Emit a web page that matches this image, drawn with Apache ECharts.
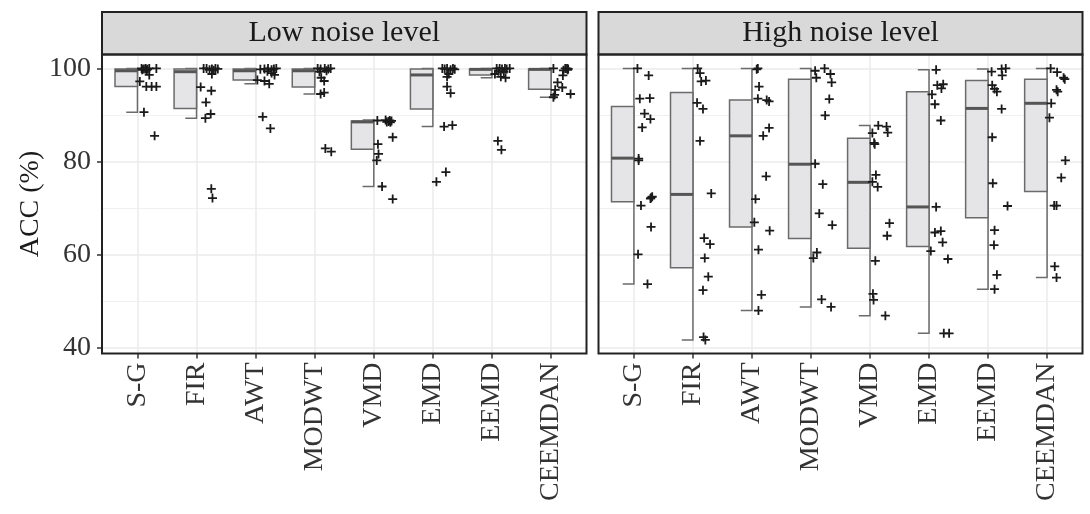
<!DOCTYPE html>
<html><head><meta charset="utf-8">
<script src="https://cdn.jsdelivr.net/npm/echarts@6/dist/echarts.min.js"></script>
<style>html,body{margin:0;padding:0;background:#fff}#chart{width:1090px;height:514px}</style>
</head><body><div id="chart"></div>
<script>
const categories = ['S-G', 'FIR', 'AWT', 'MODWT', 'VMD', 'EMD', 'EEMD', 'CEEMDAN'];
const panelTitles = ['Low noise level', 'High noise level'];
const yTicks = [40, 60, 80, 100];
const yMinorTicks = [50, 70, 90];
const yTitle = 'ACC (%)';

// box statistics per category: [min, q1, median, q3, max]
const lowBox = [
  [90.6, 96.1, 99.5, 99.9, 100],
  [89.3, 91.4, 99.3, 99.9, 100],
  [96.7, 97.5, 99.5, 99.9, 100],
  [94.5, 96.0, 99.5, 99.9, 100],
  [74.6, 82.6, 88.5, 88.7, 88.9],
  [87.5, 91.3, 98.6, 99.9, 100],
  [98.0, 98.6, 99.8, 99.9, 100],
  [93.8, 95.5, 99.8, 99.9, 100]
];
const highBox = [
  [53.6, 71.3, 80.7, 91.8, 100],
  [41.6, 57.1, 72.9, 94.8, 100],
  [47.9, 65.9, 85.5, 93.2, 100],
  [48.7, 63.4, 79.4, 97.7, 100],
  [46.8, 61.3, 75.5, 85.0, 87.7],
  [43.0, 61.7, 70.2, 95.0, 99.7],
  [52.5, 67.9, 91.4, 97.4, 99.9],
  [55.0, 73.5, 92.5, 97.7, 100]
];

// individual results (ACC %) per category
const lowPoints = [
  [100, 99.9, 100, 99.8, 100, 100, 99.7, 99.6, 98.6, 97.2, 96.1, 96.1, 96.1, 90.6, 85.5],
  [100, 100, 99.7, 99.9, 99.6, 100, 99.9, 98.8, 96.0, 95.2, 92.7, 90.2, 89.3, 74.1, 72.1],
  [99.8, 99.9, 100, 99.7, 99.9, 100, 98.6, 99.4, 99.0, 97.5, 97.3, 96.7, 89.6, 87.1],
  [100, 99.9, 100, 99.9, 100, 99.3, 99.5, 98.0, 97.3, 94.5, 94.8, 82.8, 82.1],
  [88.8, 88.9, 88.6, 88.4, 88.7, 88.5, 88.8, 85.2, 83.7, 81.6, 80.2, 74.6, 71.9],
  [100, 99.9, 100, 99.7, 100, 99.8, 98.8, 98.2, 96.1, 94.7, 87.5, 87.8, 77.7, 75.6],
  [100, 100, 99.9, 100, 99.9, 100, 98.8, 98.2, 98.0, 99.4, 99.3, 84.4, 82.5],
  [100, 100, 100, 99.9, 99.7, 99.6, 98.5, 97.0, 95.9, 95.4, 94.3, 93.8, 94.5]
];
// horizontal jitter of each point (fraction of a category step)
const lowJitter = [
  [.07, .11, .14, .17, .20, .32, .08, .15, .20, .04, .15, .24, .32, .11, .29],
  [.12, .17, .22, .26, .29, .32, .36, .26, .07, .25, .16, .24, .15, .25, .27],
  [.08, .15, .21, .27, .31, .35, .32, .20, .27, .03, .15, .23, .12, .25],
  [.05, .10, .17, .23, .27, .08, .20, .11, .16, .10, .16, .18, .28],
  [.06, .20, .25, .28, .30, .22, .27, .32, .07, .08, .05, .14, .32],
  [.16, .20, .24, .30, .34, .37, .27, .24, .24, .30, .19, .33, .22, .06],
  [.08, .13, .17, .22, .25, .30, .05, .15, .23, .11, .20, .10, .16],
  [.04, .24, .27, .29, .28, .21, .20, .11, .19, .07, .06, .04, .33]
];
const highPoints = [
  [100, 98.5, 93.5, 93.6, 90.3, 89.1, 87.3, 80.6, 80.2, 72.4, 72.0, 72.2, 70.5, 65.9, 60.0, 53.6],
  [100, 99.0, 97.2, 97.4, 92.6, 91.3, 84.4, 73.1, 63.5, 62.2, 59.2, 55.2, 52.3, 42.2, 41.6],
  [100, 99.8, 96.1, 93.5, 93.2, 92.9, 87.2, 85.5, 76.8, 71.9, 66.9, 65.1, 61.0, 51.3, 47.9],
  [99.5, 98.0, 100, 98.8, 97.0, 93.4, 89.9, 79.5, 75.1, 68.8, 66.3, 60.4, 59.2, 50.3, 48.7],
  [87.7, 87.5, 86.2, 86.1, 84.0, 83.7, 77.1, 75.6, 74.5, 66.7, 64.0, 58.6, 51.5, 50.2, 46.8],
  [99.7, 96.4, 96.6, 95.7, 94.4, 92.3, 88.8, 70.2, 64.7, 65.0, 62.6, 60.7, 59.0, 43.0, 43.0],
  [99.3, 99.9, 100, 98.5, 96.4, 95.6, 95.0, 91.3, 85.2, 75.3, 70.4, 65.2, 62.0, 55.6, 52.5],
  [100, 99.2, 97.7, 98.0, 95.4, 95.0, 92.5, 89.4, 80.2, 76.5, 70.5, 70.5, 57.4, 55.0]
];
const highJitter = [
  [.06, .25, .10, .27, .18, .28, .14, .08, .08, .31, .28, .29, .12, .29, .07, .23],
  [.08, .12, .14, .22, .07, .17, .12, .31, .19, .29, .20, .26, .17, .18, .21],
  [.10, .08, .12, .10, .25, .29, .29, .19, .24, .06, .04, .30, .11, .16, .11],
  [.07, .09, .23, .33, .35, .31, .24, .07, .20, .14, .36, .10, .04, .18, .34],
  [.14, .28, .30, .04, .07, .08, .10, .04, .13, .33, .29, .09, .05, .06, .26],
  [.12, .14, .24, .21, .05, .10, .20, .12, .10, .20, .23, .03, .32, .25, .34],
  [.06, .23, .30, .24, .07, .11, .15, .23, .07, .08, .33, .11, .10, .15, .11],
  [.06, .17, .30, .28, .16, .18, .07, .04, .31, .24, .12, .16, .13, .16]
];

const FONT = '"Liberation Serif", "DejaVu Serif", serif';
const Y_MIN = 38.67, Y_MAX = 103.0;
const X_MIN = -0.6, X_MAX = categories.length - 0.4;
const catIdx = categories.map((_, i) => i);
const panels = [
  { left: 102, top: 54.5, width: 484.5, height: 299 },
  { left: 598.5, top: 54.5, width: 484, height: 299 }
];
const STRIP_TOP = 12;

function renderBox(params, api) {
  const x = api.value(0);
  const mn = api.value(1), q1 = api.value(2), md = api.value(3), q3 = api.value(4), mx = api.value(5);
  const unit = api.size([1, 0])[0];
  const cx = api.coord([x, md])[0];
  const bw = unit * 0.38, cap = unit * 0.19;
  const yMin = api.coord([x, mn])[1], yQ1 = api.coord([x, q1])[1];
  const yMd = api.coord([x, md])[1], yQ3 = api.coord([x, q3])[1], yMax = api.coord([x, mx])[1];
  return {
    type: 'group',
    children: [
      { type: 'polyline', shape: { points: [[cx - cap, yMax], [cx, yMax], [cx, yMin], [cx - cap, yMin]] },
        style: { stroke: '#6b6b6b', lineWidth: 1.5, fill: null } },
      { type: 'rect', shape: { x: cx - bw, y: yQ3, width: bw, height: Math.max(yQ1 - yQ3, 0.5) },
        style: { fill: '#e5e5e7', stroke: '#6b6b6b', lineWidth: 1.5 } },
      { type: 'line', shape: { x1: cx - bw, y1: yMd, x2: cx, y2: yMd },
        style: { stroke: '#555555', lineWidth: 3 } }
    ]
  };
}

const PLUS = 'path://M4,0H6V4H10V6H6V10H4V6H0V4H4Z';

function pointData(points, jitter) {
  const out = [];
  points.forEach((vals, i) => vals.forEach((v, k) => out.push([i + jitter[i][k], v])));
  return out;
}

const grid = panels.map(p => ({ left: p.left, top: p.top, width: p.width, height: p.height, show: false }));

const xAxis = panels.map((p, gi) => ({
  type: 'value', gridIndex: gi, min: X_MIN, max: X_MAX, position: 'bottom',
  axisLine: { show: false, onZero: false },
  axisTick: { show: true, customValues: catIdx, length: 5, lineStyle: { color: '#333', width: 1.5 } },
  axisLabel: { show: true, customValues: catIdx, rotate: 90, margin: 9,
    formatter: v => categories[Math.round(v)], fontFamily: FONT, fontSize: 28, color: '#333' },
  splitLine: { show: true, lineStyle: { color: '#ebebeb', width: 1.5 } }
}));

const yAxis = [
  { type: 'value', gridIndex: 0, min: Y_MIN, max: Y_MAX, position: 'left',
    name: yTitle, nameLocation: 'middle', nameGap: 54,
    nameTextStyle: { fontFamily: FONT, fontSize: 28, color: '#1a1a1a' },
    axisLine: { show: false, onZero: false },
    axisTick: { show: true, customValues: yTicks, length: 5, lineStyle: { color: '#333', width: 1.5 } },
    axisLabel: { show: true, customValues: yTicks, margin: 11, fontFamily: FONT, fontSize: 28, color: '#333' },
    splitLine: { show: true, lineStyle: { color: '#ebebeb', width: 1.5 } } },
  { type: 'value', gridIndex: 1, min: Y_MIN, max: Y_MAX, position: 'left',
    axisLine: { show: false, onZero: false },
    axisTick: { show: false, customValues: yTicks },
    axisLabel: { show: false, customValues: yTicks },
    splitLine: { show: true, lineStyle: { color: '#ebebeb', width: 1.5 } } },
  { type: 'value', gridIndex: 0, min: Y_MIN, max: Y_MAX, position: 'right',
    axisLine: { show: false, onZero: false },
    axisTick: { show: false, customValues: yMinorTicks },
    axisLabel: { show: false, customValues: yMinorTicks },
    splitLine: { show: true, lineStyle: { color: '#f0f0f0', width: 1 } } },
  { type: 'value', gridIndex: 1, min: Y_MIN, max: Y_MAX, position: 'right',
    axisLine: { show: false, onZero: false },
    axisTick: { show: false, customValues: yMinorTicks },
    axisLabel: { show: false, customValues: yMinorTicks },
    splitLine: { show: true, lineStyle: { color: '#f0f0f0', width: 1 } } }
];

const boxSets = [lowBox, highBox];
const pointSets = [lowPoints, highPoints];
const jitterSets = [lowJitter, highJitter];

const series = [];
[0, 1].forEach(gi => {
  series.push({
    type: 'custom', xAxisIndex: gi, yAxisIndex: gi, renderItem: renderBox, z: 3,
    encode: { x: 0, y: [1, 2, 3, 4, 5] },
    data: boxSets[gi].map((b, i) => [i].concat(b)),
    silent: true
  });
  series.push({
    type: 'scatter', xAxisIndex: gi, yAxisIndex: gi, z: 4,
    symbol: PLUS, symbolSize: 9,
    itemStyle: { color: '#1a1a1a', opacity: 1 },
    data: pointData(pointSets[gi], jitterSets[gi]),
    silent: true
  });
});

const graphic = [];
panels.forEach((p, gi) => {
  graphic.push({ type: 'rect', z: 100, shape: { x: p.left, y: STRIP_TOP, width: p.width, height: p.top - STRIP_TOP },
    style: { fill: '#d9d9d9', stroke: '#222', lineWidth: 2 } });
  graphic.push({ type: 'text', z: 101, x: p.left + p.width / 2, y: (STRIP_TOP + p.top) / 2,
    style: { text: panelTitles[gi], font: '30px ' + FONT, fill: '#1a1a1a',
      align: 'center', verticalAlign: 'middle', textAlign: 'center', textVerticalAlign: 'middle' } });
  graphic.push({ type: 'rect', z: 100, shape: { x: p.left, y: p.top, width: p.width, height: p.height },
    style: { fill: 'rgba(0,0,0,0)', stroke: '#222', lineWidth: 2 } });
});

const chart = echarts.init(document.getElementById('chart'), null, { renderer: 'canvas' });
chart.setOption({
  animation: false,
  backgroundColor: '#ffffff',
  grid, xAxis, yAxis, series, graphic
});
</script></body></html>
